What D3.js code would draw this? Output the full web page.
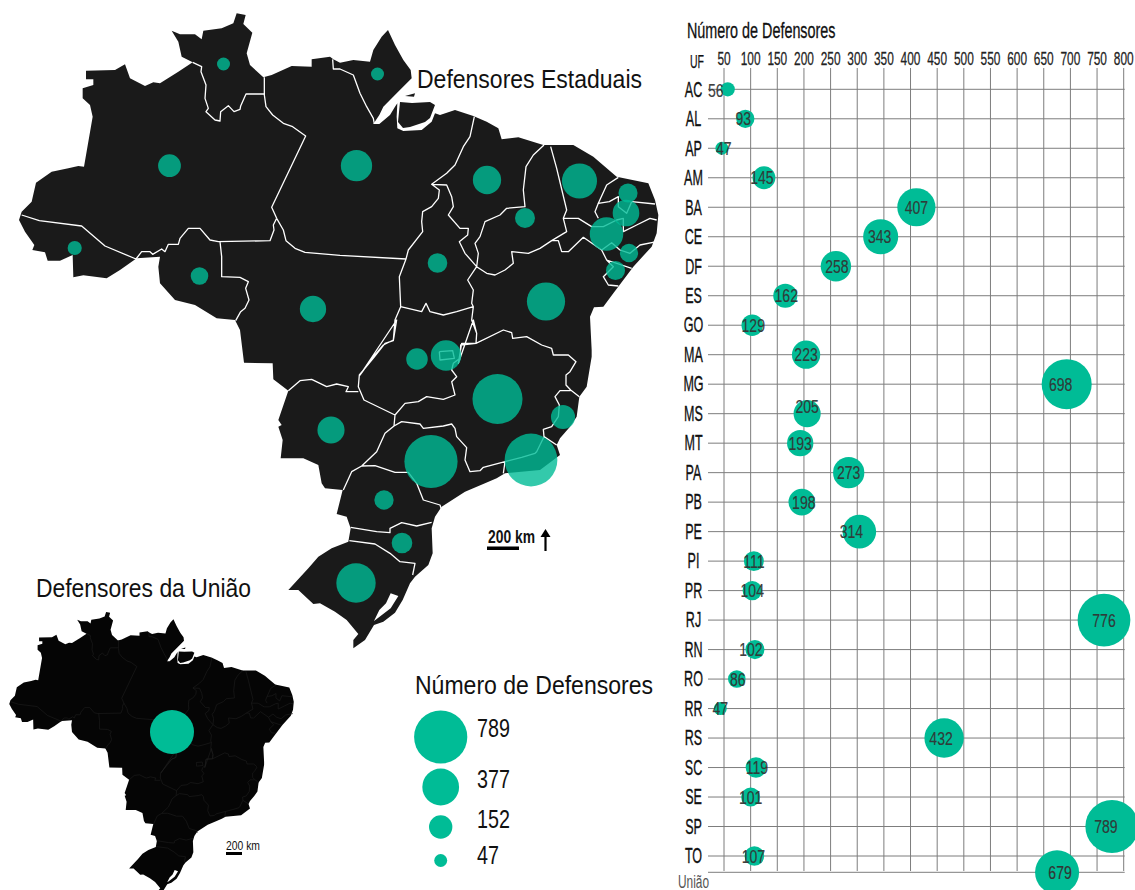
<!DOCTYPE html>
<html>
<head>
<meta charset="utf-8">
<script src="https://cdn.jsdelivr.net/npm/d3@7"></script>
<style>
  body { margin: 0; background: #fff; }
  svg { display: block; }
  text { font-family: "Liberation Sans", sans-serif; }
</style>
</head>
<body>
<div id="chart"></div>
<script>
// values
const ufs = ["AC","AL","AP","AM","BA","CE","DF","ES","GO","MA","MG","MS","MT","PA","PB","PE","PI","PR","RJ","RN","RO","RR","RS","SC","SE","SP","TO"];
const defensores = [56,93,47,145,407,343,258,162,129,223,698,205,193,273,198,314,111,104,776,102,86,47,432,119,101,789,107];
// where each bubble really sits on the axis (not always its label)
const axisPos = [57,90,46,125,411,344,260,165,103,204,693,206,193,284,196,304,106,103,763,108,74,43,463,110,100,778,107];
const mapX = [74.7,629,377.5,169.5,546,579.5,446,563,417,487,497.5,331,313,356.5,626,606.5,525,384,531,628,199.5,223.5,356,402,615.5,431,437.5];
const mapY = [248,253,74,165.7,301.5,181,355.5,417,359,180,399,430,309,165.7,213,234,218,500,460,193,276,64,583,543,270.5,461.5,263];
const axisTicks = d3.range(50, 801, 50);
const legendValues = [789,377,152,47];
const uniaoValue = 679, uniaoPos = 675, uniaoSize = 540;

const width = 1135, height = 890;
const green = "#00bc96";

const svg = d3.select("#chart").append("svg")
  .attr("width", width)
  .attr("height", height);

// tracings of the map, done on crops of the picture at 3x
const tracing = (ox, oy) => pts => pts.map(p => [ox + p[0] / 3, oy + p[1] / 3]);
const A = tracing(0, 0), B = tracing(340, 50), C = tracing(220, 320), D = tracing(530, 330);

const outline = [].concat(
  A([[65,635],[95,605],[108,548],[155,515],[205,505],[235,498],[252,500],[278,350],[270,315],[248,295],[248,265],[280,255],[280,238],[258,238],[258,212],[345,210],[375,193],[390,235],[435,258],[460,247],[480,250],[535,215],[578,187],[545,170],[535,125],[515,92],[540,103],[585,103],[605,118],[610,92],[665,85],[700,70],[710,40],[737,45],[730,72],[757,98],[740,160],[750,195],[790,232],[815,225],[875,198],[935,200],[935,178],[990,170],[1000,178],[1020,188]]),
  B([[40,30],[90,35],[100,0],[125,-40],[144,-60],[165,-15],[190,30],[212,60],[215,85],[170,130],[130,170],[118,195],[100,222],[118,222],[150,195],[165,170],[172,160],[170,200],[172,235],[190,243],[245,240],[275,215],[285,190],[300,195],[345,180],[400,198],[440,215],[475,235],[485,268],[535,262],[610,285],[635,285],[700,285],[760,320],[830,380],[925,400],[945,450],[955,495],[950,550],[935,590],[880,650],[820,730],[790,770],[762,772],[750,800],[755,900]]),
  D([[185,80],[170,170],[148,200],[140,260],[120,290],[90,325],[80,345]]),
  C([[1020,405],[960,450],[855,460],[830,475],[795,490],[735,515],[665,560],[645,590],[635,625],[638,700],[625,735],[585,770],[570,790],[548,840],[525,878],[490,905],[462,915],[435,960],[400,985],[400,960],[415,942],[380,900],[345,875],[300,850],[280,852],[235,810],[205,810],[265,745],[295,710],[335,685],[385,665],[392,625],[380,590],[350,582],[368,510],[315,505],[305,490],[295,435],[250,415],[182,415],[188,360],[175,320],[185,315],[175,300],[205,212],[160,178],[158,130],[72,128],[60,30],[50,0]]),
  A([[720,990],[705,960],[650,955],[585,915],[525,900],[480,850],[475,800],[480,770],[410,775],[360,810],[320,835],[250,826],[220,832],[218,765],[180,782],[143,782],[135,757],[97,750],[103,735],[75,695],[57,660]])
);
const marajo = B([[180,156],[216,159],[270,156],[285,165],[270,204],[255,216],[210,231],[189,234],[174,216]]);
const ilhota = B([[195,138],[225,130],[222,140]]);
const lagoa = C([[512,820],[535,828],[512,865],[470,897],[462,903],[478,870],[498,850]]);

const borders = [
  A([[65,645],[118,662],[245,678],[315,738],[408,777]]),
  A([[408,777],[425,755],[450,755],[458,763],[485,747],[495,755],[505,733],[535,733],[540,715],[565,685],[600,685],[630,720],[655,725],[810,722],[822,690],[820,675],[830,655]]),
  A([[830,655],[815,622],[917,408],[878,380],[850,370],[818,345],[798,320],[793,285],[793,232]]),
  A([[578,187],[605,200],[603,215],[618,255],[615,295],[625,325],[618,335],[645,360],[660,363],[662,335],[685,317],[702,335],[720,328],[722,318],[738,282],[793,282]]),
  A([[660,725],[665,770],[665,830],[720,832],[745,845],[737,865],[747,900],[735,925],[722,935],[707,962]]),
  A([[830,655],[850,690],[858,722],[885,745],[915,757],[1020,766]]).concat(B([[198,627]])),
  A([[998,178],[1000,207],[1020,207]]).concat(B([[40,75],[60,130],[80,170],[100,205],[103,222]])),
  B([[403,200],[390,260],[370,290],[345,345],[320,370],[275,403],[298,420],[295,445],[275,470],[248,485],[245,515],[248,545],[205,600],[198,627],[178,680],[182,770],[165,810],[160,870],[130,885],[100,920],[60,975]]).concat(C([[530,0],[520,62],[495,70],[462,112],[418,165],[415,200],[432,240],[525,285]])),
  C([[205,212],[240,182],[275,178],[320,200],[350,192],[385,200],[378,215],[415,215]]),
  B([[275,403],[320,405],[335,440],[340,470],[325,495],[360,535],[385,535],[383,555],[358,575],[375,610],[410,650],[383,690],[400,720],[395,760],[400,770],[395,810],[410,850],[408,880],[365,880],[355,940]]).concat(C([[760,0],[770,40],[768,70],[722,75],[720,115],[700,130],[695,150],[710,170],[695,185],[705,225],[670,238],[620,230],[595,245],[555,250],[525,285]])),
  B([[182,770],[245,785],[258,760],[270,785],[310,795],[350,785],[400,770]]),
  B([[612,285],[580,315],[558,350],[550,420],[555,470],[500,475],[480,495],[435,515],[420,560],[405,580],[415,610],[410,650]]),
  B([[632,290],[650,355],[680,480],[670,505],[680,545],[635,572]]),
  B([[670,505],[715,505],[755,530],[790,530],[830,510],[850,505],[850,545],[890,525],[930,505],[950,510]]),
  B([[635,572],[600,595],[565,610],[515,605],[520,640],[495,660],[465,675],[440,670],[410,650]]),
  B([[635,572],[655,572],[665,605],[685,605],[730,562],[785,600],[815,578],[840,600],[870,610],[900,585],[950,575]]),
  B([[785,600],[800,630],[875,655]]),
  B([[800,630],[820,650],[790,680],[805,705],[835,708]]),
  B([[835,382],[800,405],[775,460],[808,455],[835,440],[835,470],[860,490],[875,455],[945,462]]),
  B([[775,460],[765,485],[775,505]]),
  C([[768,70],[850,30],[875,38],[878,55],[920,50],[965,75],[995,85],[1000,105]]).concat(D([[115,75],[138,95],[120,125],[108,135],[108,165],[122,180],[148,200]])),
  D([[122,182],[90,182],[75,200],[88,225],[85,260],[65,290],[40,298],[42,320],[80,345]]),
  C([[855,425],[905,412],[945,400]]).concat(D([[20,365],[42,320]])),
  C([[525,285],[522,318],[495,340],[470,395],[425,438],[395,455],[370,510]]),
  C([[522,318],[545,305],[600,312],[610,325],[670,318],[695,312],[705,325],[710,350],[740,383],[735,420],[750,455],[780,452],[790,442],[855,425],[850,460]]),
  C([[425,438],[465,437],[525,457],[565,457],[590,490],[610,540],[660,555],[665,570]]),
  C([[635,607],[590,618],[545,608],[510,625],[510,638],[470,635],[392,622]]),
  C([[388,662],[465,672],[510,700],[540,725],[585,730],[578,765]]),
  C([[658,95],[698,92],[703,115],[660,120],[658,95]])
];

const ring = pts => ({ type: "Polygon", coordinates: [[...pts, pts[0]]] });
const land = [ring(outline), ring(marajo), ring(ilhota)];
const lake = ring(lagoa);
const lines = { type: "MultiLineString", coordinates: borders };

// bubbles share one size scale everywhere
const r = d3.scaleSqrt().domain([0, 789]).range([0, 26.6]);

// the original face is far narrower than anything installed, so text gets squeezed
function fit(sel, w) {
  return sel.attr("textLength", w).attr("lengthAdjust", "spacingAndGlyphs");
}
function squeeze(sel, f) {
  sel.attr("transform", function () {
    const tx = +this.getAttribute("x") || 0;
    return `translate(${tx},0) scale(${f},1) translate(${-tx},0)`;
  });
}

// ---- state map
const mapGroup = svg.append("g");
const mapPath = d3.geoPath(d3.geoIdentity());

mapGroup.selectAll(".land").data(land).join("path")
  .attr("class", "land").attr("fill", "#1a1a1a").attr("d", mapPath);
mapGroup.append("path").datum(lake).attr("fill", "#fff").attr("d", mapPath);
mapGroup.append("path").datum(lines)
  .attr("fill", "none")
  .attr("stroke", "#fff")
  .attr("stroke-width", 1.3)
  .attr("stroke-linejoin", "round")
  .attr("d", mapPath);

mapGroup.selectAll("circle")
  .data(ufs)
  .join("circle")
  .attr("cx", (d, i) => mapX[i])
  .attr("cy", (d, i) => mapY[i])
  .attr("r", (d, i) => r(defensores[i]))
  .attr("fill", green)
  .attr("fill-opacity", 0.8);

fit(mapGroup.append("text").text("Defensores Estaduais")
  .attr("x", 417).attr("y", 88).attr("font-size", 25).attr("fill", "#111"), 225);

// scale bar and north arrow
mapGroup.append("text").text("200 km")
  .attr("x", 488).attr("y", 543).attr("font-size", 19).attr("font-weight", "bold").attr("fill", "#111")
  .call(fit, 47);
mapGroup.append("rect").attr("x", 487).attr("y", 546.5).attr("width", 32).attr("height", 3.5).attr("fill", "#000");
mapGroup.append("path")
  .attr("d", d3.line()([[545.5, 551], [545.5, 534]]))
  .attr("stroke", "#000").attr("stroke-width", 2.2);
mapGroup.append("path")
  .attr("d", d3.line()([[540.5, 537], [545.5, 529], [550.5, 537]]) + "Z")
  .attr("fill", "#000");

// ---- small map for the federal defenders
const insetGroup = svg.append("g");
const insetPath = d3.geoPath(d3.geoIdentity().scale(0.445).translate([0.8, 606]));

insetGroup.selectAll(".land").data(land).join("path")
  .attr("class", "land").attr("fill", "#050505").attr("d", insetPath);
insetGroup.append("path").datum(lake).attr("fill", "#fff").attr("d", insetPath);
insetGroup.append("path").datum(lines)
  .attr("fill", "none")
  .attr("stroke", "#1e1e1e")
  .attr("stroke-width", 0.6)
  .attr("d", insetPath);

insetGroup.append("circle")
  .attr("cx", 172).attr("cy", 732)
  .attr("r", r(uniaoSize))
  .attr("fill", green);

fit(insetGroup.append("text").text("Defensores da União")
  .attr("x", 36).attr("y", 597).attr("font-size", 25).attr("fill", "#111"), 215);

insetGroup.append("text").text("200 km")
  .attr("x", 226).attr("y", 850).attr("font-size", 13).attr("fill", "#111")
  .call(fit, 34);
insetGroup.append("rect").attr("x", 226).attr("y", 852).attr("width", 16).attr("height", 3).attr("fill", "#000");

// ---- legend
const legendG = svg.append("g");
const legendY = d3.scaleOrdinal().domain(legendValues).range([737, 787, 827, 860.5]);
const legendBase = d3.scaleOrdinal().domain(legendValues).range([737, 788, 828, 864]);

fit(legendG.append("text").text("Número de Defensores")
  .attr("x", 415).attr("y", 694).attr("font-size", 25).attr("fill", "#111"), 238);

legendG.selectAll("circle")
  .data(legendValues)
  .join("circle")
  .attr("cx", 440.7)
  .attr("cy", d => legendY(d))
  .attr("r", d => r(d))
  .attr("fill", green);

legendG.selectAll(".val")
  .data(legendValues)
  .join("text")
  .attr("class", "val")
  .attr("x", 477)
  .attr("y", d => legendBase(d))
  .attr("font-size", 25)
  .attr("fill", "#111")
  .text(d => d)
  .call(squeeze, 0.79);

// ---- bubble table on the right
const x = d3.scaleLinear().domain([50, 800]).range([724, 1123.7]);
const y = d3.scalePoint().domain(ufs).range([89.3, 856]);
const uniaoY = 872.3;

// hand placed in the original, labels do not always centre on the bubble
const labelNudge = { AC: -12, AL: -2, AP: 2, AM: -2, CE: -1, DF: 1, ES: 1, GO: 1, MG: -6, PB: 2, PE: -8, RN: -4, RO: 1, RS: -3, SC: 1, TO: -1, SP: -6 };
const labelLift = { AC: 1, MS: -7 };

const gridColor = "#7d7d7d";

svg.append("g")
  .attr("transform", "translate(0,68)")
  .call(d3.axisTop(x).tickValues(axisTicks).tickSize(-803).tickPadding(3).offset(0))
  .call(g => g.select(".domain").remove())
  .call(g => g.selectAll(".tick line").attr("stroke", gridColor))
  .call(g => g.selectAll(".tick text")
    .attr("font-size", 18)
    .attr("font-family", null)
    .attr("fill", "#222")
    .attr("stroke", "#222")
    .attr("stroke-width", 0.25)
    .call(squeeze, 0.66));

svg.append("g")
  .attr("transform", "translate(708,0)")
  .call(d3.axisLeft(y).tickSize(-416.7).offset(0))
  .call(g => g.select(".domain").remove())
  .call(g => g.selectAll(".tick line").attr("stroke", gridColor))
  .call(g => g.selectAll(".tick text")
    .attr("x", -14.5)
    .attr("dy", "0.33em")
    .attr("text-anchor", "middle")
    .attr("font-size", 22)
    .attr("fill", "#111")
    .attr("stroke", "#111")
    .attr("stroke-width", 0.35)
    .call(squeeze, 0.57));

svg.append("line")
  .attr("x1", 708).attr("x2", 1124.7)
  .attr("y1", uniaoY).attr("y2", uniaoY)
  .attr("stroke", gridColor);

fit(svg.append("text").text("Número de Defensores")
  .attr("x", 687).attr("y", 38).attr("font-size", 22).attr("fill", "#111")
  .attr("stroke", "#111").attr("stroke-width", 0.3), 148.5);
fit(svg.append("text").text("UF")
  .attr("x", 690).attr("y", 68).attr("font-size", 19).attr("fill", "#111")
  .attr("stroke", "#111").attr("stroke-width", 0.25), 14);
fit(svg.append("text").text("União")
  .attr("x", 678).attr("y", 888).attr("font-size", 18).attr("fill", "#555"), 31);

const bubbles = svg.append("g");
bubbles.selectAll("circle")
  .data(ufs)
  .join("circle")
  .attr("cx", (d, i) => x(axisPos[i]))
  .attr("cy", d => y(d))
  .attr("r", (d, i) => r(defensores[i]))
  .attr("fill", green);

bubbles.append("circle")
  .attr("cx", x(uniaoPos))
  .attr("cy", uniaoY)
  .attr("r", r(uniaoSize))
  .attr("fill", green);

bubbles.selectAll("text")
  .data(ufs)
  .join("text")
  .attr("x", (d, i) => x(axisPos[i]) + (labelNudge[d] || 0))
  .attr("y", d => y(d) + (labelLift[d] || 0))
  .attr("dy", "0.35em")
  .attr("text-anchor", "middle")
  .attr("font-size", 19)
  .attr("fill", "#333")
  .attr("fill-opacity", 0.95)
  .attr("stroke", "#333")
  .attr("stroke-width", 0.2)
  .text((d, i) => defensores[i])
  .call(squeeze, 0.74);

bubbles.append("text")
  .attr("x", x(uniaoPos) + 3)
  .attr("y", uniaoY)
  .attr("dy", "0.35em")
  .attr("text-anchor", "middle")
  .attr("font-size", 19)
  .attr("fill", "#333")
  .attr("stroke", "#333")
  .attr("stroke-width", 0.2)
  .text(uniaoValue)
  .call(squeeze, 0.74);
</script>
</body>
</html>
